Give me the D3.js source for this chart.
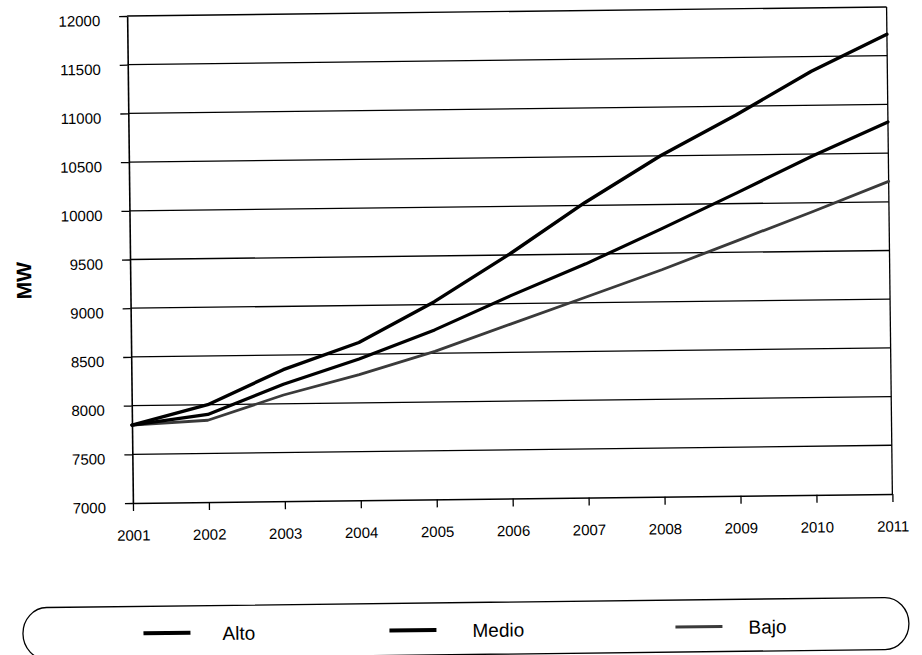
<!DOCTYPE html>
<html><head><meta charset="utf-8">
<script src="https://cdn.jsdelivr.net/npm/d3@7"></script>
<style>
body{margin:0;background:#fff}
svg{display:block}
text{font-family:"Liberation Sans",Arial,sans-serif;fill:#000}
</style>
</head><body>
<svg id="c" width="922" height="655"></svg>
<script>
// ---- data ----
const years = [2001, 2002, 2003, 2004, 2005, 2006, 2007, 2008, 2009, 2010, 2011];
const alto  = [7800, 8000, 8350, 8620, 9030, 9510, 10030, 10500, 10910, 11350, 11720];
const medio = [7800, 7900, 8200, 8450, 8740, 9080, 9400, 9750, 10110, 10480, 10820];
const bajo  = [7800, 7840, 8090, 8290, 8520, 8790, 9060, 9330, 9620, 9910, 10210];
const seriesNames = ["Alto", "Medio", "Bajo"];
const yTicks = [7000, 7500, 8000, 8500, 9000, 9500, 10000, 10500, 11000, 11500, 12000];
const yLabel = "MW";

// ---- layout ----
const m = {left: 130, right: 889.5, top: 11.5, bottom: 498.5};
const styles = {
  Alto:  {color: "#000", width: 3.4},
  Medio: {color: "#000", width: 3.2},
  Bajo:  {color: "#3a3a3a", width: 2.8}
};
const legendLineX = [139, 385, 671];
const legendTextX = [218, 468, 744];

const svg = d3.select("#c");
const root = svg.append("g").attr("transform", "rotate(-0.68 509 255)");

const x = d3.scalePoint().domain(years).range([m.left, m.right]);
const y = d3.scaleLinear().domain([7000, 12000]).range([m.bottom, m.top]);

// gridlines
root.append("g").selectAll("line")
  .data(yTicks.filter(d => d > 7000))
  .join("line")
  .attr("x1", m.left).attr("x2", m.right)
  .attr("y1", d => y(d)).attr("y2", d => y(d))
  .attr("stroke", "#000").attr("stroke-width", 1.3);

// right border
root.append("line")
  .attr("x1", m.right).attr("x2", m.right)
  .attr("y1", m.top).attr("y2", m.bottom)
  .attr("stroke", "#000").attr("stroke-width", 1.3);

// y axis
const ya = root.append("g")
  .attr("transform", `translate(${m.left},0)`)
  .call(d3.axisLeft(y).tickValues(yTicks).tickSize(8).tickSizeOuter(0).tickPadding(19).tickFormat(d3.format("d")));
ya.attr("font-family", null).attr("font-size", null);
ya.select(".domain").attr("stroke", "#000").attr("stroke-width", 1.6);
ya.selectAll(".tick line").attr("stroke", "#000").attr("stroke-width", 1.3);
ya.selectAll("text").attr("font-size", 15).attr("y", 4.5);

// x axis
const xa = root.append("g")
  .attr("transform", `translate(0,${m.bottom})`)
  .call(d3.axisBottom(x).tickSize(8).tickSizeOuter(0).tickPadding(19));
xa.attr("font-family", null).attr("font-size", null);
xa.select(".domain").attr("stroke", "#000").attr("stroke-width", 1.6);
xa.selectAll(".tick line").attr("stroke", "#000").attr("stroke-width", 1.3);
xa.selectAll("text").attr("font-size", 15);

// y label
root.append("text")
  .attr("transform", "translate(31,275) rotate(-90)")
  .attr("text-anchor", "middle")
  .attr("font-size", 21).attr("font-weight", "bold")
  .text(yLabel);

// series
const data = {Alto: alto, Medio: medio, Bajo: bajo};
const line = d3.line().x((d, i) => x(years[i])).y(d => y(d));
["Bajo", "Medio", "Alto"].forEach(name => {
  root.append("path")
    .datum(data[name])
    .attr("d", line)
    .attr("fill", "none")
    .attr("stroke", styles[name].color)
    .attr("stroke-width", styles[name].width)
    .attr("stroke-linejoin", "round")
    .attr("stroke-linecap", "round");
});

// legend
root.append("rect")
  .attr("x", 18.5).attr("y", 602).attr("width", 886).attr("height", 52)
  .attr("rx", 24).attr("ry", 26)
  .attr("fill", "none").attr("stroke", "#000").attr("stroke-width", 1.3);

const lg = root.append("g").selectAll("g").data(seriesNames).join("g");
lg.append("line")
  .attr("x1", (d, i) => legendLineX[i]).attr("x2", (d, i) => legendLineX[i] + 47)
  .attr("y1", 629).attr("y2", 629)
  .attr("stroke", d => styles[d].color)
  .attr("stroke-width", d => d === "Bajo" ? 3 : 4);
lg.append("text")
  .attr("x", (d, i) => legendTextX[i]).attr("y", 636.5)
  .attr("font-size", 19)
  .text(d => d);
</script>
</body></html>
